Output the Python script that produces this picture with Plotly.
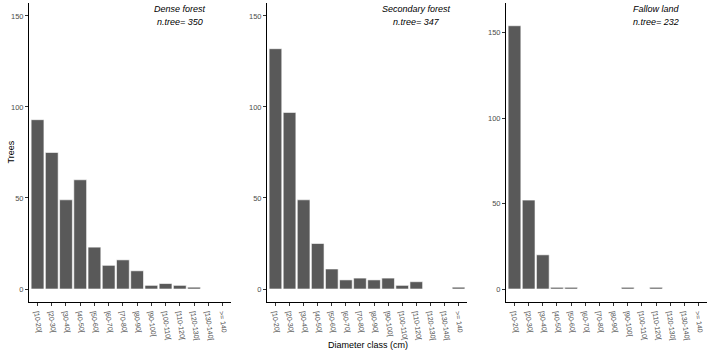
import plotly.graph_objects as go

categories = ["[10-20[", "[20-30[", "[30-40[", "[40-50[", "[50-60[", "[60-70[", "[70-80[",
              "[80-90[", "[90-100[", "[100-110[", "[110-120[", "[120-130[", "[130-140[", ">= 140"]
dense_forest = [93, 75, 49, 60, 23, 13, 16, 10, 2, 3, 2, 1, 0, 0]
secondary_forest = [132, 97, 49, 25, 11, 5, 6, 5, 6, 2, 4, 0, 0, 1]
fallow_land = [154, 52, 20, 1, 1, 0, 0, 0, 1, 0, 1, 0, 0, 0]
panel_titles = ["Dense forest", "Secondary forest", "Fallow land"]
n_trees = [350, 347, 232]
y_ticks = [0, 50, 100, 150]

W, H = 709, 352
FONT = "Liberation Sans, Arial, sans-serif"
BAR = "#595959"
TICK = "#4d4d4d"

# panel pixel extents
panels_px = [(29, 231), (267, 467), (506, 707)]
top_px, bot_px = 3, 302
y_ranges = [[-7.14, 157.1], [-7.14, 157.1], [-7.6, 167.3]]

fig = go.Figure()
series = [dense_forest, secondary_forest, fallow_land]
for i, vals in enumerate(series):
    sfx = "" if i == 0 else str(i + 1)
    fig.add_trace(go.Bar(
        x=categories, y=vals, xaxis="x" + sfx, yaxis="y" + sfx,
        marker=dict(color=BAR, line=dict(color="white", width=0.6)),
        width=0.9, showlegend=False, hoverinfo="x+y"))

layout = dict(
    width=W, height=H,
    margin=dict(l=0, r=0, t=top_px, b=H - bot_px, pad=0),
    paper_bgcolor="white", plot_bgcolor="white",
    font=dict(family=FONT, size=8, color="black"),
    bargap=0.1,
)
for i, (x0, x1) in enumerate(panels_px):
    sfx = "" if i == 0 else str(i + 1)
    layout["xaxis" + sfx] = dict(
        domain=[x0 / W, x1 / W], anchor="y" + sfx,
        type="category", categoryorder="array", categoryarray=categories,
        range=[-0.6, len(categories) - 0.4],
        showline=True, linecolor="black", linewidth=1, mirror=False,
        showgrid=False, zeroline=False,
        ticks="outside", ticklen=3, tickcolor="#333333", tickwidth=1,
        tickangle=82, tickfont=dict(family=FONT, size=7, color=TICK),
        fixedrange=True,
    )
    layout["yaxis" + sfx] = dict(
        domain=[0, 1], anchor="x" + sfx,
        range=y_ranges[i], tickvals=y_ticks,
        showline=True, linecolor="black", linewidth=1,
        showgrid=False, zeroline=False,
        ticks="outside", ticklen=3, tickcolor="#333333", tickwidth=1,
        tickfont=dict(family=FONT, size=7.5, color=TICK),
        fixedrange=True,
    )
fig.update_layout(**layout)

ph = bot_px - top_px
annotations = []
for i, (x0, x1) in enumerate(panels_px):
    sfx = "" if i == 0 else str(i + 1)
    for j, (txt, py) in enumerate([(panel_titles[i], 9.5), ("n.tree= %d" % n_trees[i], 22.5)]):
        annotations.append(dict(
            x=categories[10], xref="x" + sfx,
            y=(bot_px - py) / ph, yref="paper",
            text="<i>%s</i>" % txt, showarrow=False,
            xanchor="center", yanchor="middle",
            font=dict(family=FONT, size=9, color="black")))
annotations.append(dict(x=10 / W, xref="paper", y=0.5, yref="paper",
                        text="Trees", textangle=-90, showarrow=False,
                        xanchor="center", yanchor="middle",
                        font=dict(family=FONT, size=9, color="black")))
annotations.append(dict(x=368 / W, xref="paper", y=(bot_px - 345) / ph, yref="paper",
                        text="Diameter class (cm)", showarrow=False,
                        xanchor="center", yanchor="middle",
                        font=dict(family=FONT, size=9, color="black")))
fig.update_layout(annotations=annotations)

fig.write_html("out.html")
